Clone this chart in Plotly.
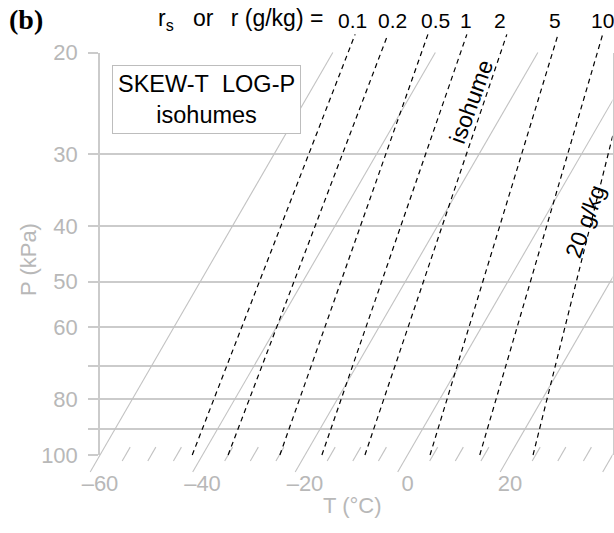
import numpy as np
import plotly.graph_objects as go

# ---- data -------------------------------------------------------------
# isotherms (deg C at the surface) drawn as full skewed lines
isotherm_T = [-60, -40, -20, 0, 20, 40]
# intermediate isotherms shown only as short ticks along the 100 kPa base
tick_T = [-55, -50, -45, -35, -30, -25, -15, -10, -5, 5, 10, 15, 25, 30, 35]

# isohumes: mixing ratio (g/kg) with dew-point temperature at the base and top end
mixing_ratio = ["0.1", "0.2", "0.5", "1", "2", "5", "10", "20"]
td_base = [-42.0, -35.0, -24.9, -16.7, -8.3, 4.4, 14.1, 24.5]      # at 100 kPa
td_top = [-57.7, -51.3, -43.5, -35.9, -28.1, -18.1, -9.4, -2.5]    # at 18.6 kPa

pressure_ticks = [20, 30, 40, 50, 60, 80, 100]
pressure_minor = [70, 90]
temp_ticks = [-60, -40, -20, 0, 20, 40]
temp_labels = ["\u201360", "\u201340", "\u201320", "0", "20", "40"]

# ---- diagram geometry --------------------------------------------------
SKEW = 65.0          # deg C of skew per decade of pressure
P0 = 100.0           # reference pressure (kPa)
P_TOP = 20.0
P_ISOHUME_TOP = 18.6
P_TICK_LO, P_TICK_HI = 96.9, 102.4
P_ISOTHERM_LO = 107.0

W, H = 614, 533
PL, PR, PT, PB = 100.0, 612.5, 52.5, 455.0   # plot frame in pixels
T_MIN, T_MAX = -60.0, 40.0
LOG_BOT, LOG_TOP = np.log10(P0), np.log10(P_TOP)


def skew_x(T, P):
    return np.asarray(T, float) + SKEW * np.log10(P0 / np.asarray(P, float))


# extended overlay axes share the same scale as the main frame
px_per_deg = (PR - PL) / (T_MAX - T_MIN)
px_per_dec = (PB - PT) / (LOG_BOT - LOG_TOP)
x2_range = [T_MIN - PL / px_per_deg, T_MAX]
y2_range = [LOG_BOT + (H - PB) / px_per_dec, LOG_TOP - PT / px_per_dec]

GRID = "#cbcbcb"
ISO = "#c2c2c2"
TXT = "#b8b8b8"
FONT = "Liberation Sans, Arial, sans-serif"

fig = go.Figure()

# main frame carrier
fig.add_trace(go.Scatter(x=[], y=[], xaxis="x", yaxis="y", showlegend=False, hoverinfo="skip"))

# isotherms
for T in isotherm_T:
    P = np.array([P_ISOTHERM_LO, P_TOP])
    fig.add_trace(go.Scatter(x=skew_x(T, P), y=P, xaxis="x2", yaxis="y2", mode="lines",
                             line=dict(color=ISO, width=1.1), showlegend=False, hoverinfo="skip"))
for T in tick_T:
    P = np.array([P_TICK_HI, P_TICK_LO])
    fig.add_trace(go.Scatter(x=skew_x(T, P), y=P, xaxis="x2", yaxis="y2", mode="lines",
                             line=dict(color=ISO, width=1.1), showlegend=False, hoverinfo="skip"))

# isohumes
for r, tb, tt in zip(mixing_ratio, td_base, td_top):
    P = np.array([P0, P_ISOHUME_TOP])
    fig.add_trace(go.Scatter(x=[skew_x(tb, P0), skew_x(tt, P_ISOHUME_TOP)], y=P,
                             xaxis="x2", yaxis="y2", mode="lines",
                             line=dict(color="black", width=1.2, dash="5px,4px"),
                             showlegend=False, hoverinfo="skip"))

annotations = []
# mixing ratio labels above the isohume tops (small nudges keep them evenly readable)
label_nudge = [-3, 5, 8, -1, -7, -3, 0]
for r, tt, dx in zip(mixing_ratio[:-1], td_top[:-1], label_nudge):
    annotations.append(dict(x=float(skew_x(tt, P_ISOHUME_TOP)), y=np.log10(P_ISOHUME_TOP),
                            xref="x2", yref="y2", text=r, showarrow=False,
                            xanchor="center", yanchor="bottom", xshift=dx, yshift=0,
                            font=dict(family=FONT, size=21, color="black")))

NB = "\u00a0"
annotations += [
    dict(x=7 / W, y=1 - 19 / H, xref="paper", yref="paper", text="<b>(b)</b>", showarrow=False,
         xanchor="left", yanchor="middle",
         font=dict(family="Liberation Serif, Times New Roman, serif", size=28, color="black")),
    dict(x=325 / W, y=1 - 20 / H, xref="paper", yref="paper",
         text=f"r<sub>s</sub>{NB}{NB}{NB}or{NB}{NB}\u2009r (g/kg) =", showarrow=False,
         xanchor="right", yanchor="middle", font=dict(family=FONT, size=23, color="black")),
    dict(x=206 / W, y=1 - 99 / H, xref="paper", yref="paper",
         text=f"SKEW-T{NB}{NB}LOG-P<br>isohumes", showarrow=False,
         xanchor="center", yanchor="middle", align="center",
         bgcolor="white", bordercolor="#bdbdbd", borderwidth=1, borderpad=5,
         font=dict(family=FONT, size=23.5, color="black")),
    dict(x=471 / W, y=1 - 102 / H, xref="paper", yref="paper", text="isohume", showarrow=False,
         xanchor="center", yanchor="middle",
         textangle=-70, font=dict(family=FONT, size=23, color="black")),
    dict(x=585 / W, y=1 - 222 / H, xref="paper", yref="paper", text="20 g/kg", showarrow=False,
         xanchor="center", yanchor="middle",
         textangle=-70, font=dict(family=FONT, size=23, color="black")),
    dict(x=28 / W, y=1 - 260 / H, xref="paper", yref="paper", text="P (kPa)", showarrow=False,
         xanchor="center", yanchor="middle",
         textangle=-90, font=dict(family=FONT, size=22, color=TXT)),
    dict(x=352 / W, y=1 - 505 / H, xref="paper", yref="paper", text="T (\u00b0C)", showarrow=False,
         xanchor="center", yanchor="middle",
         font=dict(family=FONT, size=22, color=TXT)),
]

fig.update_layout(
    template="none",
    width=W, height=H,
    margin=dict(l=0, r=0, t=0, b=0, pad=0, autoexpand=False),
    paper_bgcolor="white", plot_bgcolor="rgba(0,0,0,0)",
    showlegend=False,
    annotations=annotations,
    xaxis=dict(domain=[PL / W, PR / W], range=[T_MIN, T_MAX], anchor="y", automargin=False,
               tickmode="array", tickvals=temp_ticks, ticktext=temp_labels,
               showgrid=False, zeroline=False, showline=False, ticks="",
               ticklabelstandoff=13,
               tickfont=dict(family=FONT, size=22, color=TXT)),
    yaxis=dict(domain=[1 - PB / H, 1 - PT / H], type="log", range=[LOG_BOT, LOG_TOP], anchor="x",
               automargin=False,
               tickmode="array", tickvals=pressure_ticks,
               ticktext=[str(p) for p in pressure_ticks],
               showgrid=True, gridcolor=GRID, gridwidth=1.5, zeroline=False,
               showline=True, mirror=True, linecolor=GRID, linewidth=1.5,
               ticks="outside", ticklen=10, tickcolor=GRID, tickwidth=1.5,
               ticklabelstandoff=6,
               minor=dict(tickmode="array", tickvals=pressure_minor, ticks="outside",
                          ticklen=10, tickcolor=GRID, tickwidth=1.5,
                          showgrid=True, gridcolor=GRID, gridwidth=1.5),
               tickfont=dict(family=FONT, size=22, color=TXT)),
    xaxis2=dict(domain=[0, PR / W], range=x2_range, anchor="y2", visible=False, automargin=False),
    yaxis2=dict(domain=[0, 1], type="log", range=y2_range, anchor="x2", visible=False,
                automargin=False),
)

fig.write_html("out.html")
